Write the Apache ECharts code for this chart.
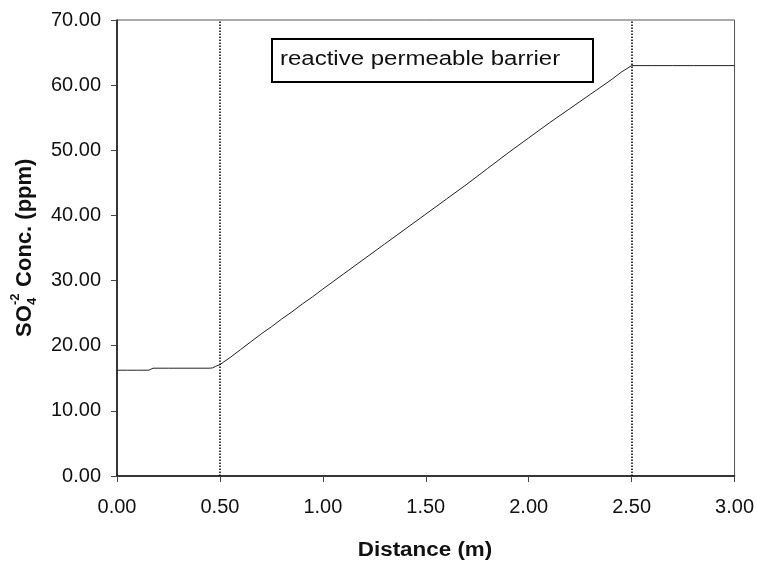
<!DOCTYPE html>
<html>
<head>
<meta charset="utf-8">
<script src="https://cdn.jsdelivr.net/npm/echarts@6/dist/echarts.min.js"></script>
<style>
html,body{margin:0;padding:0;background:#fff;}
#chart{width:757px;height:563px;}
</style>
</head>
<body>
<div id="chart"></div>
<script>
// Sulfate concentration profile through a reactive permeable barrier
var distance = [0.00, 0.05, 0.10, 0.155, 0.175, 0.25, 0.35, 0.45, 0.465, 0.48,
  0.50, 0.55, 0.60, 0.65, 0.70, 0.75, 0.80, 0.85, 0.90, 0.95,
  1.00, 1.10, 1.20, 1.30, 1.40, 1.50, 1.60, 1.70, 1.80, 1.90,
  2.00, 2.10, 2.20, 2.30, 2.40, 2.45, 2.50, 2.60, 2.70, 2.80,
  2.90, 3.00];
var sulfate = [16.24, 16.24, 16.24, 16.24, 16.55, 16.55, 16.55, 16.55, 16.6, 16.85,
  17.1, 18.2, 19.4, 20.6, 21.8, 22.9, 24.1, 25.2, 26.4, 27.5,
  28.7, 31.0, 33.3, 35.6, 37.9, 40.2, 42.5, 44.8, 47.2, 49.6,
  51.9, 54.2, 56.4, 58.6, 60.8, 62.0, 63.0, 63.0, 63.0, 63.0,
  63.0, 63.0];
// barrier boundaries (m)
var barrierEdges = [0.5, 2.5];
var xTicks = [0, 0.5, 1.0, 1.5, 2.0, 2.5, 3.0];
var yTicks = [0, 10, 20, 30, 40, 50, 60, 70];

var FONT = '"Liberation Sans", Arial, sans-serif';
var chart = echarts.init(document.getElementById('chart'));

var points = distance.map(function (d, i) { return [d, sulfate[i]]; });

var option = {
  backgroundColor: '#fff',
  animation: false,
  grid: {
    left: 117, right: 22, top: 20, bottom: 87,
    show: true, borderColor: '#555', borderWidth: 1
  },
  xAxis: {
    type: 'value',
    min: xTicks[0], max: xTicks[xTicks.length - 1], interval: 0.5,
    axisLine: { show: true, lineStyle: { color: '#111', width: 1.5 } },
    axisTick: { show: true, length: 6, lineStyle: { color: '#444', width: 1 } },
    splitLine: { show: false },
    axisLabel: {
      color: '#111', fontSize: 20, fontFamily: FONT, margin: 21,
      formatter: function (v) { return v.toFixed(2); }
    }
  },
  yAxis: {
    type: 'value',
    min: yTicks[0], max: yTicks[yTicks.length - 1], interval: 10,
    axisLine: { show: true, lineStyle: { color: '#111', width: 1.5 } },
    axisTick: { show: true, length: 6, lineStyle: { color: '#444', width: 1 } },
    splitLine: { show: false },
    axisLabel: {
      color: '#111', fontSize: 20, fontFamily: FONT, margin: 16,
      formatter: function (v) { return v.toFixed(2); }
    }
  },
  series: [{
    type: 'line',
    data: points,
    showSymbol: false,
    lineStyle: { color: '#222', width: 1 },
    markLine: {
      silent: true,
      symbol: ['none', 'none'],
      label: { show: false },
      lineStyle: { color: '#000', type: [1.5, 1.5], width: 1.5 },
      data: barrierEdges.map(function (x) { return { xAxis: x }; })
    }
  }],
  graphic: [
    {
      type: 'rect',
      shape: { x: 272, y: 39, width: 321, height: 43 },
      style: { fill: '#fff', stroke: '#000', lineWidth: 2 },
      z: 10
    },
    {
      type: 'text',
      x: 280, y: 59, scaleX: 1.2,
      style: {
        text: 'reactive permeable barrier', fill: '#111',
        font: '20px ' + FONT, textAlign: 'left', textVerticalAlign: 'middle'
      },
      z: 11
    },
    {
      type: 'text',
      x: 425, y: 550, scaleX: 1.12,
      style: {
        text: 'Distance (m)', fill: '#111',
        font: 'bold 20px ' + FONT, textAlign: 'center', textVerticalAlign: 'middle'
      }
    },
    {
      type: 'group',
      x: 32, y: 337, rotation: Math.PI / 2,
      children: [
        { type: 'text', x: 0, y: -7, style: { text: 'SO', fill: '#111', font: 'bold 22px ' + FONT, textVerticalAlign: 'middle' } },
        { type: 'text', x: 32, y: 0, style: { text: '4', fill: '#111', font: 'bold 13px ' + FONT, textVerticalAlign: 'middle' } },
        { type: 'text', x: 32, y: -17, style: { text: '-2', fill: '#111', font: 'bold 13px ' + FONT, textVerticalAlign: 'middle' } },
        { type: 'text', x: 44, y: -7, style: { text: ' Conc. (ppm)', fill: '#111', font: 'bold 22px ' + FONT, textVerticalAlign: 'middle' } }
      ]
    }
  ]
};
chart.setOption(option);
</script>
</body>
</html>
